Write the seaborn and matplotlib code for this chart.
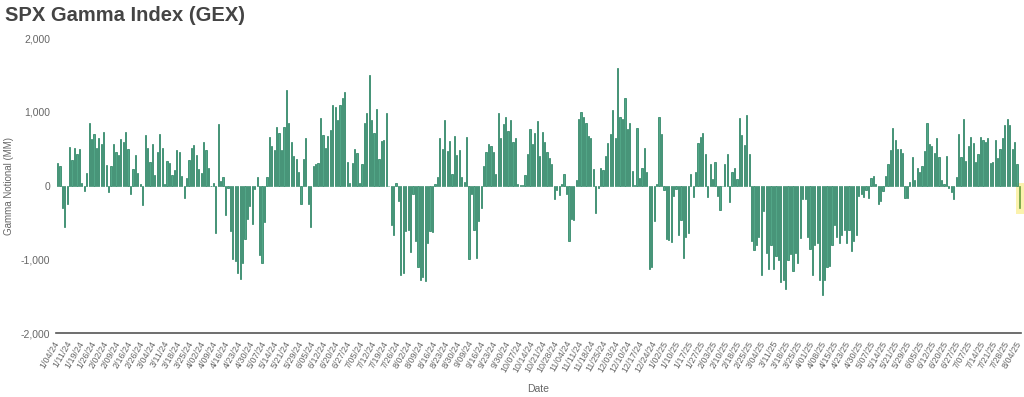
import matplotlib
matplotlib.use("Agg")
import matplotlib.pyplot as plt
from matplotlib.patches import Rectangle
from matplotlib.ticker import FuncFormatter
import pandas as pd
import seaborn as sns

# trading calendar, 1/04/24 .. 8/04/25 (NYSE closures removed)
start_date = "2024-01-04"
end_date = "2025-08-04"
market_holidays = [
    "2024-01-15", "2024-02-19", "2024-03-29", "2024-05-27", "2024-06-19",
    "2024-07-04", "2024-09-02", "2024-11-28", "2024-12-25",
    "2025-01-01", "2025-01-09", "2025-01-20", "2025-02-17", "2025-04-18",
    "2025-05-26", "2025-06-19", "2025-07-04",
]

# daily GEX, $MM
gex_q1_24 = [
    300, 270, -300, -560, -243, 522, 342, 513, 432, 495, 36, -68, 171, 846, 630, 702,
    513, 639, 567, 729, 279, -90, 270, 558, 450, 414, 630, 585, 729, 495, -120, 225,
    414, 171, 15, -261, 684, 513, 324, 567, 150, 450, 702, 504, 18, 333, 306, 144, 207,
]
gex_q2_24 = [
    486, 459, 126, -171, 108, 351, 513, 549, 414, 225, 171, 594, 486, 243, -10, 36,
    -648, 837, 63, 117, -405, -36, -612, -990, -1017, -1179, -1260, -1044, -729, -459,
    -279, -522, -45, 117, -936, -1053, -495, 117, 657, 531, 486, 801, 720, 486, 792,
    1296, 855, 594, 405, 360,
    189, -252, 360, 639, -252, -558, 270, 288, 306, 918, 684, 513, 666, 756, 1089, 1071,
    891, 1089, 1188, 1269, 315, 36, 306, 495, 441, 36, 297, 846, 981, 1503, 891, 711,
    1035, 360, 603, 612, 981, -10, -531, -666, 36, -207, -1206, -1188, -612, -603, -900,
    -117, -747,
]
gex_q3_24 = [
    -1098, -1278, -1233, -1296, -783, -621, -630, 27, 117, 639, 495, 891, 468, 603, 162,
    666, 414, 486, 117, 54, 657, -990, -117, -603, -981, -477, -306, 270, 450, 567, 540,
    450, 153, 981, 639, 837, 927, 747, 891, 594, 639, 27, 9, 5, 144, 432, 765, 558, 711,
    882, 405, 729, 594, 459, 369, 297, -180, -63, -126, 27, 153, -117, -756, -450, -468,
    72, 909, 999, 927, 855, 666, 648, 225, -369, -36, 243, 216, 396, 576, 693, 1026, 639,
    1593, 927, 909, 1188, 774, 846, 198, 9, 783, 108, 243, 504, 189, -1134, -1107, -477,
]
gex_q1_25 = [
    18, 936, 702, -63, -729, -738, -765, -144, -45, -666, -468, -981, -702, -648, 162,
    -153, 180, 576, 657, 720, 423, -153, 288, 90, 324, -135, -333, -9, 288, 423, -216,
    180, 234, 90, 918, 684, 549, 954, 423, -756, -873, -810, -702, -1206, -351, -918,
    -1134, -801, -1125, -954,
    -1008, -1305, -1278, -1404, -1008, -927, -1161, -918, -1053, -711, -180, -180, -702,
    -864, -1206, -801, -783, -1278, -1485, -1278, -1107, -1089, -801, -531, -702, -774,
    -675, -603, -774, -603, -891, -747, -666, -144, -117, -153, -63, -162, 99, 135, 18,
    -243, -207, -72, 126, 297, 477, 783, 612,
]
gex_q3_25 = [
    495, 495, 441, -171, -162, 45, 387, 81, 234, 189, 270, 468, 846, 558, 540, 441, 648,
    387, 81, 18, 405, -27, -81, -180, 117, 693, 387, 900, 333, 531, 657, 576, 315, 432,
    657, 621, 594, 648, 306, 324, 612, 369, 495, 648, 819, 909, 828, 495, 594, 288, -306,
]

gex = gex_q1_24 + gex_q2_24 + gex_q3_24 + gex_q1_25 + gex_q3_25
dates = pd.bdate_range(start_date, end_date, freq="C", holidays=market_holidays)
labels = [f"{d.month}/{d.day:02d}/{d.year % 100:02d}" for d in dates]
df = pd.DataFrame({"date": labels, "gex": gex})

BAR = "#52a687"
EDGE = "#1f7b5a"
LAST_BAR = "#6c9f3f"
HIGHLIGHT = "#fbf2ad"
TEXT = "#666666"

sns.set_style("white")
plt.rcParams["font.family"] = ["Liberation Sans", "DejaVu Sans"]

fig = plt.figure(figsize=(10.24, 3.97), dpi=100)
ax = fig.add_axes([0.0547, 0.161, 0.9423, 0.743])

sns.barplot(data=df, x="date", y="gex", color=BAR, saturation=1, width=0.5,
            edgecolor=EDGE, linewidth=0.5, ax=ax)

# latest reading highlighted
last = len(df) - 1
ax.patches[last].set_facecolor(LAST_BAR)
ax.patches[last].set_edgecolor(LAST_BAR)
ax.add_patch(Rectangle((last - 1.6, min(gex[-1], 0) - 75), 4.2, abs(gex[-1]) + 115,
                       facecolor=HIGHLIGHT, edgecolor="none", zorder=0.5, clip_on=False))

ax.set_xlim(-0.6, last + 0.6)
ax.set_ylim(-2000, 2000)
ax.set_yticks([-2000, -1000, 0, 1000, 2000])
ax.yaxis.set_major_formatter(FuncFormatter(lambda v, _: f"{v:,.0f}".replace("\u2212", "-")))
ax.set_xticks(range(0, len(df), 5))
ax.set_xticklabels(labels[::5], rotation=60, ha="right", va="center",
                   rotation_mode="anchor")

ax.tick_params(axis="both", length=0, colors=TEXT)
ax.tick_params(axis="x", labelsize=6.4, pad=6)
ax.tick_params(axis="y", labelsize=7.5, pad=4)
for s in ["top", "right", "left"]:
    ax.spines[s].set_visible(False)
ax.spines["bottom"].set_color("#555555")
ax.spines["bottom"].set_linewidth(1.2)

ax.set_xlabel("Date", fontsize=7.5, color=TEXT, labelpad=7)
ax.set_ylabel("Gamma Notional (MM)", fontsize=7, color=TEXT, labelpad=5)

fig.text(0.005, 0.985, "SPX Gamma Index (GEX)", fontsize=14.5, fontweight="bold",
         color="#444444", va="top", ha="left")

fig.savefig("out.png", dpi=100)
